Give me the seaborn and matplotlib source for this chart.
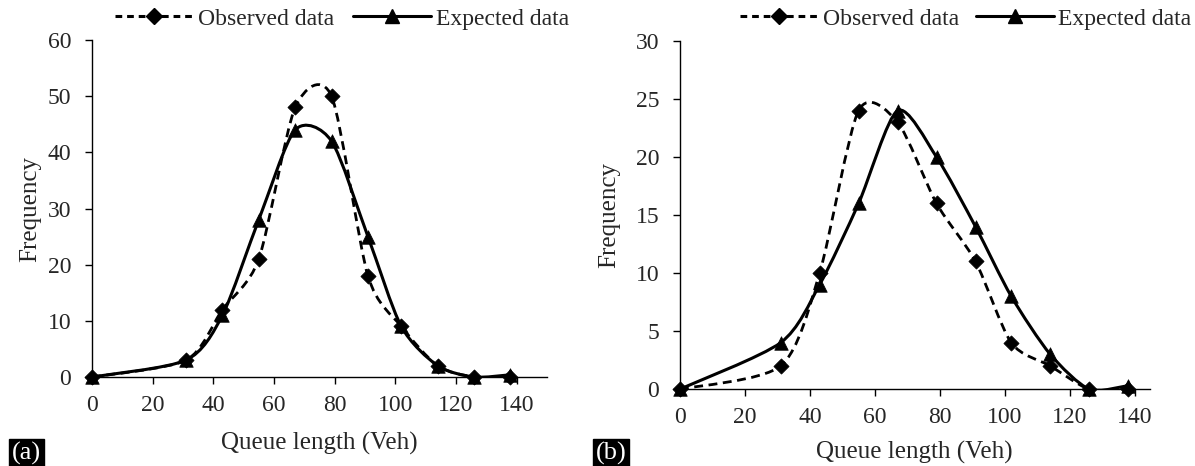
import numpy as np
import pandas as pd
import matplotlib
matplotlib.use("Agg")
import matplotlib.pyplot as plt
import seaborn as sns
from matplotlib.path import Path
from matplotlib.patches import PathPatch
from matplotlib.lines import Line2D

# -------------------------------------------------------------------------
# Data
# -------------------------------------------------------------------------
queue_len = [0, 31, 43, 55, 67, 79, 91, 102, 114, 126, 138]

obs_a = [0, 3, 12, 21, 48, 50, 18, 9, 2, 0, 0]
exp_a = [0, 3, 11, 28, 44, 42, 25, 9, 2, 0, 0.4]

obs_b = [0, 2, 10, 24, 23, 16, 11, 4, 2, 0, 0]
exp_b = [0, 4, 9, 16, 24, 20, 14, 8, 3, 0, 0.3]

x_ticks = [0, 20, 40, 60, 80, 100, 120, 140]

sns.set_theme(style="ticks")
plt.rcParams['font.family'] = ['Liberation Serif', 'DejaVu Serif']
plt.rcParams['font.size'] = 17


def smooth_path(x, y, k=0.13):
    # Excel-like smoothed line: cubic Bezier with Catmull-Rom tangents
    pts = np.column_stack([x, y]).astype(float)
    n = len(pts)
    verts = [pts[0]]
    codes = [Path.MOVETO]
    for i in range(n - 1):
        p0 = pts[i - 1] if i > 0 else pts[i]
        p1 = pts[i]
        p2 = pts[i + 1]
        p3 = pts[i + 2] if i + 2 < n else pts[i + 1]
        c1 = p1 + (p2 - p0) * k
        c2 = p2 - (p3 - p1) * k
        verts += [c1, c2, p2]
        codes += [Path.CURVE4] * 3
    return Path(verts, codes)


def draw_panel(ax, obs, exp, ymax, ystep, xmax, xlab_y, ylab_x):
    d_obs = pd.DataFrame({"x": queue_len, "freq": obs})
    d_exp = pd.DataFrame({"x": queue_len, "freq": exp})
    ax.add_patch(PathPatch(smooth_path(queue_len, obs), fill=False, color="black",
                           lw=2.0, linestyle=(0, (3.2, 2.0)), zorder=2))
    ax.add_patch(PathPatch(smooth_path(queue_len, exp), fill=False, color="black",
                           lw=2.2, zorder=2))
    sns.scatterplot(data=d_obs, x="x", y="freq", marker="D", color="black", s=60,
                    edgecolor="black", linewidth=0.5, legend=False, ax=ax,
                    zorder=3, clip_on=False)
    sns.scatterplot(data=d_exp, x="x", y="freq", marker="^", color="black", s=95,
                    edgecolor="black", linewidth=0.5, legend=False, ax=ax,
                    zorder=3, clip_on=False)
    ax.set_xlim(0, xmax)
    ax.set_ylim(0, ymax)
    ax.set_xticks(x_ticks)
    ax.set_yticks(np.arange(0, ymax + 0.1, ystep))
    ax.set_xlabel("Queue length (Veh)", fontsize=18)
    ax.set_ylabel("Frequency", fontsize=18)
    ax.xaxis.set_label_coords(0.5, xlab_y)
    ax.yaxis.set_label_coords(ylab_x, 0.5)
    ax.tick_params(axis="both", labelsize=17, length=5, width=1, color="black",
                   direction="out")
    ax.tick_params(axis="x", pad=8)
    ax.tick_params(axis="y", pad=10)
    for s in ["top", "right"]:
        ax.spines[s].set_visible(False)
    for s in ["left", "bottom"]:
        ax.spines[s].set_color("black")
        ax.spines[s].set_linewidth(1)

    handles = [
        Line2D([], [], color="black", lw=2.2, linestyle=(0, (2.2, 1.6)),
               marker="D", markersize=8),
        Line2D([], [], color="black", lw=2.2, marker="^", markersize=10),
    ]
    return handles


fig = plt.figure(figsize=(11.95, 4.66), dpi=100)
ax1 = fig.add_axes([0.077, 0.191, 0.3806, 0.723])
ax2 = fig.add_axes([0.569, 0.165, 0.393, 0.747])

h = draw_panel(ax1, obs_a, exp_a, 60, 10, 150, -0.163, -0.112)
ax1.legend(h, ["Observed data", "Expected data"], ncol=2, frameon=False,
           loc="center", bbox_to_anchor=(342 / 1195, 1 - 19 / 466),
           bbox_transform=fig.transFigure, fontsize=17, handlelength=3.3,
           columnspacing=0.8, handletextpad=0.2)

h = draw_panel(ax2, obs_b, exp_b, 30, 5, 144.6, -0.149, -0.128)
ax2.legend(h, ["Observed data", "Expected data"], ncol=2, frameon=False,
           loc="center", bbox_to_anchor=(966 / 1195, 1 - 19 / 466),
           bbox_transform=fig.transFigure, fontsize=17, handlelength=3.3,
           columnspacing=0.7, handletextpad=0.2)

# panel labels
fig.text(12 / 1195, 1 / 466, "(a)", color="white", fontsize=19, ha="left", va="bottom",
         bbox=dict(facecolor="black", edgecolor="black", boxstyle="square,pad=0.1"))
fig.text(596 / 1195, 1 / 466, "(b)", color="white", fontsize=19, ha="left", va="bottom",
         bbox=dict(facecolor="black", edgecolor="black", boxstyle="square,pad=0.1"))

fig.savefig("out.png", dpi=100)
